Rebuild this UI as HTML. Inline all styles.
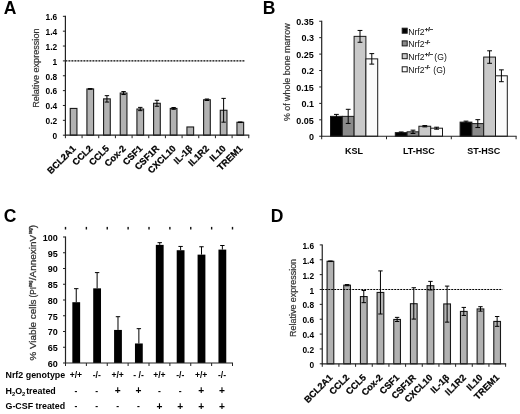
<!DOCTYPE html>
<html><head><meta charset="utf-8"><title>Figure</title>
<style>html,body{margin:0;padding:0;background:#fff;}svg{display:block;will-change:transform;opacity:0.999;}text{font-family:"Liberation Sans",sans-serif;}</style>
</head><body>
<svg width="520" height="414" viewBox="0 0 520 414">
<rect x="0" y="0" width="520" height="414" fill="#fff"/>
<rect x="70.24" y="108.43" width="6.70" height="26.77" fill="#b2b2b2" stroke="#1a1a1a" stroke-width="1.1"/>
<rect x="86.91" y="88.94" width="6.70" height="46.26" fill="#b2b2b2" stroke="#1a1a1a" stroke-width="1.1"/>
<line x1="90.25" y1="88.64" x2="90.25" y2="89.23" stroke="#000" stroke-width="1.0" />
<line x1="88.05" y1="88.64" x2="92.45" y2="88.64" stroke="#000" stroke-width="1.0" />
<line x1="88.05" y1="89.23" x2="92.45" y2="89.23" stroke="#000" stroke-width="1.0" />
<rect x="103.58" y="98.87" width="6.70" height="36.33" fill="#b2b2b2" stroke="#1a1a1a" stroke-width="1.1"/>
<line x1="106.93" y1="95.67" x2="106.93" y2="102.06" stroke="#000" stroke-width="1.0" />
<line x1="104.73" y1="95.67" x2="109.13" y2="95.67" stroke="#000" stroke-width="1.0" />
<line x1="104.73" y1="102.06" x2="109.13" y2="102.06" stroke="#000" stroke-width="1.0" />
<rect x="120.25" y="93.06" width="6.70" height="42.14" fill="#b2b2b2" stroke="#1a1a1a" stroke-width="1.1"/>
<line x1="123.59" y1="91.57" x2="123.59" y2="94.54" stroke="#000" stroke-width="1.0" />
<line x1="121.39" y1="91.57" x2="125.80" y2="91.57" stroke="#000" stroke-width="1.0" />
<line x1="121.39" y1="94.54" x2="125.80" y2="94.54" stroke="#000" stroke-width="1.0" />
<rect x="136.92" y="109.02" width="6.70" height="26.18" fill="#b2b2b2" stroke="#1a1a1a" stroke-width="1.1"/>
<line x1="140.27" y1="107.38" x2="140.27" y2="110.65" stroke="#000" stroke-width="1.0" />
<line x1="138.07" y1="107.38" x2="142.47" y2="107.38" stroke="#000" stroke-width="1.0" />
<line x1="138.07" y1="110.65" x2="142.47" y2="110.65" stroke="#000" stroke-width="1.0" />
<rect x="153.59" y="103.28" width="6.70" height="31.92" fill="#b2b2b2" stroke="#1a1a1a" stroke-width="1.1"/>
<line x1="156.94" y1="100.31" x2="156.94" y2="106.25" stroke="#000" stroke-width="1.0" />
<line x1="154.74" y1="100.31" x2="159.13" y2="100.31" stroke="#000" stroke-width="1.0" />
<line x1="154.74" y1="106.25" x2="159.13" y2="106.25" stroke="#000" stroke-width="1.0" />
<rect x="170.26" y="108.43" width="6.70" height="26.77" fill="#b2b2b2" stroke="#1a1a1a" stroke-width="1.1"/>
<line x1="173.61" y1="107.54" x2="173.61" y2="109.32" stroke="#000" stroke-width="1.0" />
<line x1="171.41" y1="107.54" x2="175.81" y2="107.54" stroke="#000" stroke-width="1.0" />
<line x1="171.41" y1="109.32" x2="175.81" y2="109.32" stroke="#000" stroke-width="1.0" />
<rect x="186.93" y="126.97" width="6.70" height="8.23" fill="#b2b2b2" stroke="#1a1a1a" stroke-width="1.1"/>
<rect x="203.60" y="99.75" width="6.70" height="35.45" fill="#b2b2b2" stroke="#1a1a1a" stroke-width="1.1"/>
<line x1="206.95" y1="99.01" x2="206.95" y2="100.49" stroke="#000" stroke-width="1.0" />
<line x1="204.75" y1="99.01" x2="209.15" y2="99.01" stroke="#000" stroke-width="1.0" />
<line x1="204.75" y1="100.49" x2="209.15" y2="100.49" stroke="#000" stroke-width="1.0" />
<rect x="220.27" y="110.27" width="6.70" height="24.93" fill="#b2b2b2" stroke="#1a1a1a" stroke-width="1.1"/>
<line x1="223.62" y1="98.38" x2="223.62" y2="122.16" stroke="#000" stroke-width="1.0" />
<line x1="221.42" y1="98.38" x2="225.81" y2="98.38" stroke="#000" stroke-width="1.0" />
<line x1="221.42" y1="122.16" x2="225.81" y2="122.16" stroke="#000" stroke-width="1.0" />
<rect x="236.94" y="122.26" width="6.70" height="12.94" fill="#b2b2b2" stroke="#1a1a1a" stroke-width="1.1"/>
<line x1="240.29" y1="121.96" x2="240.29" y2="122.56" stroke="#000" stroke-width="1.0" />
<line x1="238.09" y1="121.96" x2="242.49" y2="121.96" stroke="#000" stroke-width="1.0" />
<line x1="238.09" y1="122.56" x2="242.49" y2="122.56" stroke="#000" stroke-width="1.0" />
<line x1="65.40" y1="60.90" x2="245.00" y2="60.90" stroke="#000" stroke-width="1.2" stroke-dasharray="2 1"/>
<line x1="65.40" y1="15.82" x2="65.40" y2="135.70" stroke="#222" stroke-width="1.2" />
<line x1="64.90" y1="135.20" x2="249.27" y2="135.20" stroke="#222" stroke-width="1.2" />
<line x1="62.90" y1="135.20" x2="65.40" y2="135.20" stroke="#222" stroke-width="1.0" />
<text transform="translate(57.20 139.00) scale(0.93 1)" font-size="9.0" font-weight="bold" text-anchor="end" fill="#000">0</text>
<line x1="62.90" y1="120.34" x2="65.40" y2="120.34" stroke="#222" stroke-width="1.0" />
<text transform="translate(57.20 124.14) scale(0.93 1)" font-size="9.0" font-weight="bold" text-anchor="end" fill="#000">0.2</text>
<line x1="62.90" y1="105.48" x2="65.40" y2="105.48" stroke="#222" stroke-width="1.0" />
<text transform="translate(57.20 109.28) scale(0.93 1)" font-size="9.0" font-weight="bold" text-anchor="end" fill="#000">0.4</text>
<line x1="62.90" y1="90.62" x2="65.40" y2="90.62" stroke="#222" stroke-width="1.0" />
<text transform="translate(57.20 94.42) scale(0.93 1)" font-size="9.0" font-weight="bold" text-anchor="end" fill="#000">0.6</text>
<line x1="62.90" y1="75.76" x2="65.40" y2="75.76" stroke="#222" stroke-width="1.0" />
<text transform="translate(57.20 79.56) scale(0.93 1)" font-size="9.0" font-weight="bold" text-anchor="end" fill="#000">0.8</text>
<line x1="62.90" y1="60.90" x2="65.40" y2="60.90" stroke="#222" stroke-width="1.0" />
<text transform="translate(57.20 64.70) scale(0.93 1)" font-size="9.0" font-weight="bold" text-anchor="end" fill="#000">1</text>
<line x1="62.90" y1="46.04" x2="65.40" y2="46.04" stroke="#222" stroke-width="1.0" />
<text transform="translate(57.20 49.84) scale(0.93 1)" font-size="9.0" font-weight="bold" text-anchor="end" fill="#000">1.2</text>
<line x1="62.90" y1="31.18" x2="65.40" y2="31.18" stroke="#222" stroke-width="1.0" />
<text transform="translate(57.20 34.98) scale(0.93 1)" font-size="9.0" font-weight="bold" text-anchor="end" fill="#000">1.4</text>
<line x1="62.90" y1="16.32" x2="65.40" y2="16.32" stroke="#222" stroke-width="1.0" />
<text transform="translate(57.20 20.12) scale(0.93 1)" font-size="9.0" font-weight="bold" text-anchor="end" fill="#000">1.6</text>
<line x1="65.40" y1="135.20" x2="65.40" y2="138.20" stroke="#222" stroke-width="1.0" />
<line x1="82.07" y1="135.20" x2="82.07" y2="138.20" stroke="#222" stroke-width="1.0" />
<line x1="98.74" y1="135.20" x2="98.74" y2="138.20" stroke="#222" stroke-width="1.0" />
<line x1="115.41" y1="135.20" x2="115.41" y2="138.20" stroke="#222" stroke-width="1.0" />
<line x1="132.08" y1="135.20" x2="132.08" y2="138.20" stroke="#222" stroke-width="1.0" />
<line x1="148.75" y1="135.20" x2="148.75" y2="138.20" stroke="#222" stroke-width="1.0" />
<line x1="165.42" y1="135.20" x2="165.42" y2="138.20" stroke="#222" stroke-width="1.0" />
<line x1="182.09" y1="135.20" x2="182.09" y2="138.20" stroke="#222" stroke-width="1.0" />
<line x1="198.76" y1="135.20" x2="198.76" y2="138.20" stroke="#222" stroke-width="1.0" />
<line x1="215.43" y1="135.20" x2="215.43" y2="138.20" stroke="#222" stroke-width="1.0" />
<line x1="232.10" y1="135.20" x2="232.10" y2="138.20" stroke="#222" stroke-width="1.0" />
<line x1="248.77" y1="135.20" x2="248.77" y2="138.20" stroke="#222" stroke-width="1.0" />
<text x="76.34" y="149.10" font-size="9.2" font-weight="bold" text-anchor="end" fill="#000" transform="rotate(-45 76.34 149.10)" stroke="#000" stroke-width="0.25">BCL2A1</text>
<text x="93.00" y="149.10" font-size="9.2" font-weight="bold" text-anchor="end" fill="#000" transform="rotate(-45 93.00 149.10)" stroke="#000" stroke-width="0.25">CCL2</text>
<text x="109.68" y="149.10" font-size="9.2" font-weight="bold" text-anchor="end" fill="#000" transform="rotate(-45 109.68 149.10)" stroke="#000" stroke-width="0.25">CCL5</text>
<text x="126.34" y="149.10" font-size="9.2" font-weight="bold" text-anchor="end" fill="#000" transform="rotate(-45 126.34 149.10)" stroke="#000" stroke-width="0.25">Cox-2</text>
<text x="143.02" y="149.10" font-size="9.2" font-weight="bold" text-anchor="end" fill="#000" transform="rotate(-45 143.02 149.10)" stroke="#000" stroke-width="0.25">CSF1</text>
<text x="159.69" y="149.10" font-size="9.2" font-weight="bold" text-anchor="end" fill="#000" transform="rotate(-45 159.69 149.10)" stroke="#000" stroke-width="0.25">CSF1R</text>
<text x="176.36" y="149.10" font-size="9.2" font-weight="bold" text-anchor="end" fill="#000" transform="rotate(-45 176.36 149.10)" stroke="#000" stroke-width="0.25">CXCL10</text>
<text x="193.03" y="149.10" font-size="9.2" font-weight="bold" text-anchor="end" fill="#000" transform="rotate(-45 193.03 149.10)" stroke="#000" stroke-width="0.25">IL-1β</text>
<text x="209.70" y="149.10" font-size="9.2" font-weight="bold" text-anchor="end" fill="#000" transform="rotate(-45 209.70 149.10)" stroke="#000" stroke-width="0.25">IL1R2</text>
<text x="226.37" y="149.10" font-size="9.2" font-weight="bold" text-anchor="end" fill="#000" transform="rotate(-45 226.37 149.10)" stroke="#000" stroke-width="0.25">IL10</text>
<text x="243.04" y="149.10" font-size="9.2" font-weight="bold" text-anchor="end" fill="#000" transform="rotate(-45 243.04 149.10)" stroke="#000" stroke-width="0.25">TREM1</text>
<text x="39.40" y="68.20" font-size="9.1" font-weight="normal" text-anchor="middle" fill="#333" transform="rotate(-90 39.40 68.20)" stroke="#333" stroke-width="0.2">Relative expression</text>
<text x="3.80" y="14.40" font-size="17.5" font-weight="bold" text-anchor="start" fill="#000" >A</text>
<rect x="327.08" y="261.27" width="6.70" height="102.53" fill="#b2b2b2" stroke="#1a1a1a" stroke-width="1.1"/>
<line x1="330.44" y1="260.97" x2="330.44" y2="261.56" stroke="#000" stroke-width="1.0" />
<line x1="328.24" y1="260.97" x2="332.63" y2="260.97" stroke="#000" stroke-width="1.0" />
<line x1="328.24" y1="261.56" x2="332.63" y2="261.56" stroke="#000" stroke-width="1.0" />
<rect x="343.75" y="285.17" width="6.70" height="78.63" fill="#b2b2b2" stroke="#1a1a1a" stroke-width="1.1"/>
<line x1="347.11" y1="284.58" x2="347.11" y2="285.77" stroke="#000" stroke-width="1.0" />
<line x1="344.91" y1="284.58" x2="349.31" y2="284.58" stroke="#000" stroke-width="1.0" />
<line x1="344.91" y1="285.77" x2="349.31" y2="285.77" stroke="#000" stroke-width="1.0" />
<rect x="360.43" y="296.57" width="6.70" height="67.23" fill="#b2b2b2" stroke="#1a1a1a" stroke-width="1.1"/>
<line x1="363.78" y1="290.48" x2="363.78" y2="302.67" stroke="#000" stroke-width="1.0" />
<line x1="361.58" y1="290.48" x2="365.98" y2="290.48" stroke="#000" stroke-width="1.0" />
<line x1="361.58" y1="302.67" x2="365.98" y2="302.67" stroke="#000" stroke-width="1.0" />
<rect x="377.10" y="292.45" width="6.70" height="71.35" fill="#b2b2b2" stroke="#1a1a1a" stroke-width="1.1"/>
<line x1="380.45" y1="270.91" x2="380.45" y2="314.00" stroke="#000" stroke-width="1.0" />
<line x1="378.25" y1="270.91" x2="382.65" y2="270.91" stroke="#000" stroke-width="1.0" />
<line x1="378.25" y1="314.00" x2="382.65" y2="314.00" stroke="#000" stroke-width="1.0" />
<rect x="393.76" y="319.45" width="6.70" height="44.35" fill="#b2b2b2" stroke="#1a1a1a" stroke-width="1.1"/>
<line x1="397.12" y1="317.37" x2="397.12" y2="321.53" stroke="#000" stroke-width="1.0" />
<line x1="394.92" y1="317.37" x2="399.31" y2="317.37" stroke="#000" stroke-width="1.0" />
<line x1="394.92" y1="321.53" x2="399.31" y2="321.53" stroke="#000" stroke-width="1.0" />
<rect x="410.44" y="303.71" width="6.70" height="60.09" fill="#b2b2b2" stroke="#1a1a1a" stroke-width="1.1"/>
<line x1="413.79" y1="287.73" x2="413.79" y2="319.09" stroke="#000" stroke-width="1.0" />
<line x1="411.59" y1="287.73" x2="415.99" y2="287.73" stroke="#000" stroke-width="1.0" />
<line x1="411.59" y1="319.09" x2="415.99" y2="319.09" stroke="#000" stroke-width="1.0" />
<rect x="427.11" y="285.69" width="6.70" height="78.11" fill="#b2b2b2" stroke="#1a1a1a" stroke-width="1.1"/>
<line x1="430.46" y1="281.38" x2="430.46" y2="290.00" stroke="#000" stroke-width="1.0" />
<line x1="428.26" y1="281.38" x2="432.66" y2="281.38" stroke="#000" stroke-width="1.0" />
<line x1="428.26" y1="290.00" x2="432.66" y2="290.00" stroke="#000" stroke-width="1.0" />
<rect x="443.77" y="303.93" width="6.70" height="59.87" fill="#b2b2b2" stroke="#1a1a1a" stroke-width="1.1"/>
<line x1="447.12" y1="286.10" x2="447.12" y2="322.13" stroke="#000" stroke-width="1.0" />
<line x1="444.93" y1="286.10" x2="449.32" y2="286.10" stroke="#000" stroke-width="1.0" />
<line x1="444.93" y1="322.13" x2="449.32" y2="322.13" stroke="#000" stroke-width="1.0" />
<rect x="460.45" y="311.43" width="6.70" height="52.37" fill="#b2b2b2" stroke="#1a1a1a" stroke-width="1.1"/>
<line x1="463.80" y1="307.42" x2="463.80" y2="315.44" stroke="#000" stroke-width="1.0" />
<line x1="461.60" y1="307.42" x2="466.00" y2="307.42" stroke="#000" stroke-width="1.0" />
<line x1="461.60" y1="315.44" x2="466.00" y2="315.44" stroke="#000" stroke-width="1.0" />
<rect x="477.12" y="308.93" width="6.70" height="54.87" fill="#b2b2b2" stroke="#1a1a1a" stroke-width="1.1"/>
<line x1="480.47" y1="306.70" x2="480.47" y2="311.16" stroke="#000" stroke-width="1.0" />
<line x1="478.27" y1="306.70" x2="482.67" y2="306.70" stroke="#000" stroke-width="1.0" />
<line x1="478.27" y1="311.16" x2="482.67" y2="311.16" stroke="#000" stroke-width="1.0" />
<rect x="493.79" y="321.44" width="6.70" height="42.36" fill="#b2b2b2" stroke="#1a1a1a" stroke-width="1.1"/>
<line x1="497.14" y1="316.53" x2="497.14" y2="326.34" stroke="#000" stroke-width="1.0" />
<line x1="494.94" y1="316.53" x2="499.34" y2="316.53" stroke="#000" stroke-width="1.0" />
<line x1="494.94" y1="326.34" x2="499.34" y2="326.34" stroke="#000" stroke-width="1.0" />
<line x1="322.25" y1="289.50" x2="502.50" y2="289.50" stroke="#000" stroke-width="1.2" stroke-dasharray="2 1"/>
<line x1="322.25" y1="244.42" x2="322.25" y2="364.30" stroke="#222" stroke-width="1.2" />
<line x1="321.75" y1="363.80" x2="506.12" y2="363.80" stroke="#222" stroke-width="1.2" />
<line x1="319.75" y1="363.80" x2="322.25" y2="363.80" stroke="#222" stroke-width="1.0" />
<text transform="translate(314.05 367.90) scale(0.93 1)" font-size="9.0" font-weight="bold" text-anchor="end" fill="#000">0</text>
<line x1="319.75" y1="348.94" x2="322.25" y2="348.94" stroke="#222" stroke-width="1.0" />
<text transform="translate(314.05 353.04) scale(0.93 1)" font-size="9.0" font-weight="bold" text-anchor="end" fill="#000">0.2</text>
<line x1="319.75" y1="334.08" x2="322.25" y2="334.08" stroke="#222" stroke-width="1.0" />
<text transform="translate(314.05 338.18) scale(0.93 1)" font-size="9.0" font-weight="bold" text-anchor="end" fill="#000">0.4</text>
<line x1="319.75" y1="319.22" x2="322.25" y2="319.22" stroke="#222" stroke-width="1.0" />
<text transform="translate(314.05 323.32) scale(0.93 1)" font-size="9.0" font-weight="bold" text-anchor="end" fill="#000">0.6</text>
<line x1="319.75" y1="304.36" x2="322.25" y2="304.36" stroke="#222" stroke-width="1.0" />
<text transform="translate(314.05 308.46) scale(0.93 1)" font-size="9.0" font-weight="bold" text-anchor="end" fill="#000">0.8</text>
<line x1="319.75" y1="289.50" x2="322.25" y2="289.50" stroke="#222" stroke-width="1.0" />
<text transform="translate(314.05 293.60) scale(0.93 1)" font-size="9.0" font-weight="bold" text-anchor="end" fill="#000">1</text>
<line x1="319.75" y1="274.64" x2="322.25" y2="274.64" stroke="#222" stroke-width="1.0" />
<text transform="translate(314.05 278.74) scale(0.93 1)" font-size="9.0" font-weight="bold" text-anchor="end" fill="#000">1.2</text>
<line x1="319.75" y1="259.78" x2="322.25" y2="259.78" stroke="#222" stroke-width="1.0" />
<text transform="translate(314.05 263.88) scale(0.93 1)" font-size="9.0" font-weight="bold" text-anchor="end" fill="#000">1.4</text>
<line x1="319.75" y1="244.92" x2="322.25" y2="244.92" stroke="#222" stroke-width="1.0" />
<text transform="translate(314.05 249.02) scale(0.93 1)" font-size="9.0" font-weight="bold" text-anchor="end" fill="#000">1.6</text>
<line x1="322.25" y1="363.80" x2="322.25" y2="366.80" stroke="#222" stroke-width="1.0" />
<line x1="338.92" y1="363.80" x2="338.92" y2="366.80" stroke="#222" stroke-width="1.0" />
<line x1="355.59" y1="363.80" x2="355.59" y2="366.80" stroke="#222" stroke-width="1.0" />
<line x1="372.26" y1="363.80" x2="372.26" y2="366.80" stroke="#222" stroke-width="1.0" />
<line x1="388.93" y1="363.80" x2="388.93" y2="366.80" stroke="#222" stroke-width="1.0" />
<line x1="405.60" y1="363.80" x2="405.60" y2="366.80" stroke="#222" stroke-width="1.0" />
<line x1="422.27" y1="363.80" x2="422.27" y2="366.80" stroke="#222" stroke-width="1.0" />
<line x1="438.94" y1="363.80" x2="438.94" y2="366.80" stroke="#222" stroke-width="1.0" />
<line x1="455.61" y1="363.80" x2="455.61" y2="366.80" stroke="#222" stroke-width="1.0" />
<line x1="472.28" y1="363.80" x2="472.28" y2="366.80" stroke="#222" stroke-width="1.0" />
<line x1="488.95" y1="363.80" x2="488.95" y2="366.80" stroke="#222" stroke-width="1.0" />
<line x1="505.62" y1="363.80" x2="505.62" y2="366.80" stroke="#222" stroke-width="1.0" />
<text x="333.19" y="378.20" font-size="9.2" font-weight="bold" text-anchor="end" fill="#000" transform="rotate(-45 333.19 378.20)" stroke="#000" stroke-width="0.25">BCL2A1</text>
<text x="349.86" y="378.20" font-size="9.2" font-weight="bold" text-anchor="end" fill="#000" transform="rotate(-45 349.86 378.20)" stroke="#000" stroke-width="0.25">CCL2</text>
<text x="366.53" y="378.20" font-size="9.2" font-weight="bold" text-anchor="end" fill="#000" transform="rotate(-45 366.53 378.20)" stroke="#000" stroke-width="0.25">CCL5</text>
<text x="383.20" y="378.20" font-size="9.2" font-weight="bold" text-anchor="end" fill="#000" transform="rotate(-45 383.20 378.20)" stroke="#000" stroke-width="0.25">Cox-2</text>
<text x="399.87" y="378.20" font-size="9.2" font-weight="bold" text-anchor="end" fill="#000" transform="rotate(-45 399.87 378.20)" stroke="#000" stroke-width="0.25">CSF1</text>
<text x="416.54" y="378.20" font-size="9.2" font-weight="bold" text-anchor="end" fill="#000" transform="rotate(-45 416.54 378.20)" stroke="#000" stroke-width="0.25">CSF1R</text>
<text x="433.21" y="378.20" font-size="9.2" font-weight="bold" text-anchor="end" fill="#000" transform="rotate(-45 433.21 378.20)" stroke="#000" stroke-width="0.25">CXCL10</text>
<text x="449.88" y="378.20" font-size="9.2" font-weight="bold" text-anchor="end" fill="#000" transform="rotate(-45 449.88 378.20)" stroke="#000" stroke-width="0.25">IL-1β</text>
<text x="466.55" y="378.20" font-size="9.2" font-weight="bold" text-anchor="end" fill="#000" transform="rotate(-45 466.55 378.20)" stroke="#000" stroke-width="0.25">IL1R2</text>
<text x="483.22" y="378.20" font-size="9.2" font-weight="bold" text-anchor="end" fill="#000" transform="rotate(-45 483.22 378.20)" stroke="#000" stroke-width="0.25">IL10</text>
<text x="499.89" y="378.20" font-size="9.2" font-weight="bold" text-anchor="end" fill="#000" transform="rotate(-45 499.89 378.20)" stroke="#000" stroke-width="0.25">TREM1</text>
<text x="296.25" y="297.90" font-size="8.95" font-weight="normal" text-anchor="middle" fill="#333" transform="rotate(-90 296.25 297.90)" stroke="#333" stroke-width="0.2">Relative expression</text>
<text x="270.80" y="221.50" font-size="17.5" font-weight="bold" text-anchor="start" fill="#000" >D</text>
<rect x="330.50" y="116.37" width="11.80" height="19.88" fill="#000" stroke="#1a1a1a" stroke-width="1.0"/>
<rect x="342.30" y="116.37" width="11.80" height="19.88" fill="#8a8a8a" stroke="#1a1a1a" stroke-width="1.0"/>
<rect x="354.10" y="36.36" width="11.80" height="99.89" fill="#c9c9c9" stroke="#1a1a1a" stroke-width="1.0"/>
<rect x="365.90" y="58.86" width="11.80" height="77.39" fill="#fbfbfb" stroke="#1a1a1a" stroke-width="1.0"/>
<line x1="336.40" y1="114.40" x2="336.40" y2="118.34" stroke="#000" stroke-width="1.0" />
<line x1="334.00" y1="114.40" x2="338.80" y2="114.40" stroke="#000" stroke-width="1.0" />
<line x1="348.20" y1="109.30" x2="348.20" y2="123.43" stroke="#000" stroke-width="1.0" />
<line x1="345.80" y1="109.30" x2="350.60" y2="109.30" stroke="#000" stroke-width="1.0" />
<line x1="345.80" y1="123.43" x2="350.60" y2="123.43" stroke="#000" stroke-width="1.0" />
<line x1="360.00" y1="30.44" x2="360.00" y2="42.27" stroke="#000" stroke-width="1.0" />
<line x1="357.60" y1="30.44" x2="362.40" y2="30.44" stroke="#000" stroke-width="1.0" />
<line x1="357.60" y1="42.27" x2="362.40" y2="42.27" stroke="#000" stroke-width="1.0" />
<line x1="371.80" y1="53.61" x2="371.80" y2="64.12" stroke="#000" stroke-width="1.0" />
<line x1="369.40" y1="53.61" x2="374.20" y2="53.61" stroke="#000" stroke-width="1.0" />
<line x1="369.40" y1="64.12" x2="374.20" y2="64.12" stroke="#000" stroke-width="1.0" />
<text x="354.10" y="153.70" font-size="9" font-weight="bold" text-anchor="middle" fill="#000" >KSL</text>
<rect x="395.30" y="132.64" width="11.80" height="3.61" fill="#000" stroke="#1a1a1a" stroke-width="1.0"/>
<rect x="407.10" y="131.81" width="11.80" height="4.44" fill="#8a8a8a" stroke="#1a1a1a" stroke-width="1.0"/>
<rect x="418.90" y="126.23" width="11.80" height="10.02" fill="#c9c9c9" stroke="#1a1a1a" stroke-width="1.0"/>
<rect x="430.70" y="128.20" width="11.80" height="8.05" fill="#fbfbfb" stroke="#1a1a1a" stroke-width="1.0"/>
<line x1="401.20" y1="131.98" x2="401.20" y2="133.29" stroke="#000" stroke-width="1.0" />
<line x1="398.80" y1="131.98" x2="403.60" y2="131.98" stroke="#000" stroke-width="1.0" />
<line x1="413.00" y1="130.17" x2="413.00" y2="133.46" stroke="#000" stroke-width="1.0" />
<line x1="410.60" y1="130.17" x2="415.40" y2="130.17" stroke="#000" stroke-width="1.0" />
<line x1="410.60" y1="133.46" x2="415.40" y2="133.46" stroke="#000" stroke-width="1.0" />
<line x1="424.80" y1="125.57" x2="424.80" y2="126.88" stroke="#000" stroke-width="1.0" />
<line x1="422.40" y1="125.57" x2="427.20" y2="125.57" stroke="#000" stroke-width="1.0" />
<line x1="422.40" y1="126.88" x2="427.20" y2="126.88" stroke="#000" stroke-width="1.0" />
<line x1="436.60" y1="127.21" x2="436.60" y2="129.19" stroke="#000" stroke-width="1.0" />
<line x1="434.20" y1="127.21" x2="439.00" y2="127.21" stroke="#000" stroke-width="1.0" />
<line x1="434.20" y1="129.19" x2="439.00" y2="129.19" stroke="#000" stroke-width="1.0" />
<text x="418.90" y="153.70" font-size="9" font-weight="bold" text-anchor="middle" fill="#000" >LT-HSC</text>
<rect x="460.10" y="122.12" width="11.80" height="14.13" fill="#000" stroke="#1a1a1a" stroke-width="1.0"/>
<rect x="471.90" y="123.60" width="11.80" height="12.65" fill="#8a8a8a" stroke="#1a1a1a" stroke-width="1.0"/>
<rect x="483.70" y="57.06" width="11.80" height="79.19" fill="#c9c9c9" stroke="#1a1a1a" stroke-width="1.0"/>
<rect x="495.50" y="75.79" width="11.80" height="60.46" fill="#fbfbfb" stroke="#1a1a1a" stroke-width="1.0"/>
<line x1="466.00" y1="121.13" x2="466.00" y2="123.11" stroke="#000" stroke-width="1.0" />
<line x1="463.60" y1="121.13" x2="468.40" y2="121.13" stroke="#000" stroke-width="1.0" />
<line x1="477.80" y1="119.66" x2="477.80" y2="127.54" stroke="#000" stroke-width="1.0" />
<line x1="475.40" y1="119.66" x2="480.20" y2="119.66" stroke="#000" stroke-width="1.0" />
<line x1="475.40" y1="127.54" x2="480.20" y2="127.54" stroke="#000" stroke-width="1.0" />
<line x1="489.60" y1="50.81" x2="489.60" y2="63.30" stroke="#000" stroke-width="1.0" />
<line x1="487.20" y1="50.81" x2="492.00" y2="50.81" stroke="#000" stroke-width="1.0" />
<line x1="487.20" y1="63.30" x2="492.00" y2="63.30" stroke="#000" stroke-width="1.0" />
<line x1="501.40" y1="69.87" x2="501.40" y2="81.70" stroke="#000" stroke-width="1.0" />
<line x1="499.00" y1="69.87" x2="503.80" y2="69.87" stroke="#000" stroke-width="1.0" />
<line x1="499.00" y1="81.70" x2="503.80" y2="81.70" stroke="#000" stroke-width="1.0" />
<text x="483.70" y="153.70" font-size="9" font-weight="bold" text-anchor="middle" fill="#000" >ST-HSC</text>
<line x1="321.70" y1="20.74" x2="321.70" y2="136.75" stroke="#222" stroke-width="1.2" />
<line x1="321.20" y1="136.25" x2="516.60" y2="136.25" stroke="#222" stroke-width="1.2" />
<line x1="319.20" y1="136.25" x2="321.70" y2="136.25" stroke="#222" stroke-width="1.0" />
<text x="313.90" y="140.05" font-size="9.0" font-weight="bold" text-anchor="end" fill="#000" >0</text>
<line x1="319.20" y1="119.82" x2="321.70" y2="119.82" stroke="#222" stroke-width="1.0" />
<text x="313.90" y="123.62" font-size="9.0" font-weight="bold" text-anchor="end" fill="#000" >0.05</text>
<line x1="319.20" y1="103.39" x2="321.70" y2="103.39" stroke="#222" stroke-width="1.0" />
<text x="313.90" y="107.19" font-size="9.0" font-weight="bold" text-anchor="end" fill="#000" >0.1</text>
<line x1="319.20" y1="86.96" x2="321.70" y2="86.96" stroke="#222" stroke-width="1.0" />
<text x="313.90" y="90.76" font-size="9.0" font-weight="bold" text-anchor="end" fill="#000" >0.15</text>
<line x1="319.20" y1="70.53" x2="321.70" y2="70.53" stroke="#222" stroke-width="1.0" />
<text x="313.90" y="74.33" font-size="9.0" font-weight="bold" text-anchor="end" fill="#000" >0.2</text>
<line x1="319.20" y1="54.10" x2="321.70" y2="54.10" stroke="#222" stroke-width="1.0" />
<text x="313.90" y="57.90" font-size="9.0" font-weight="bold" text-anchor="end" fill="#000" >0.25</text>
<line x1="319.20" y1="37.67" x2="321.70" y2="37.67" stroke="#222" stroke-width="1.0" />
<text x="313.90" y="41.47" font-size="9.0" font-weight="bold" text-anchor="end" fill="#000" >0.3</text>
<line x1="319.20" y1="21.24" x2="321.70" y2="21.24" stroke="#222" stroke-width="1.0" />
<text x="313.90" y="25.04" font-size="9.0" font-weight="bold" text-anchor="end" fill="#000" >0.35</text>
<line x1="321.70" y1="136.25" x2="321.70" y2="139.25" stroke="#222" stroke-width="1.0" />
<line x1="386.50" y1="136.25" x2="386.50" y2="139.25" stroke="#222" stroke-width="1.0" />
<line x1="451.30" y1="136.25" x2="451.30" y2="139.25" stroke="#222" stroke-width="1.0" />
<line x1="516.10" y1="136.25" x2="516.10" y2="139.25" stroke="#222" stroke-width="1.0" />
<text x="289.70" y="72.25" font-size="8.9" font-weight="normal" text-anchor="middle" fill="#333" transform="rotate(-90 289.70 72.25)" stroke="#333" stroke-width="0.2">% of whole bone marrow</text>
<text x="262.80" y="14.10" font-size="17.5" font-weight="bold" text-anchor="start" fill="#000" >B</text>
<rect x="402.20" y="28.20" width="5.00" height="5.00" fill="#000" stroke="#1a1a1a" stroke-width="1.0"/>
<text x="408.2" y="34.70" font-size="8.6" fill="#111">Nrf2<tspan font-size="5.8" font-weight="bold" stroke="#111" stroke-width="0.25" dy="-3.9" dx="0.3">+/–</tspan><tspan dy="3.9" dx="0"></tspan></text>
<rect x="402.20" y="40.90" width="5.00" height="5.00" fill="#8a8a8a" stroke="#1a1a1a" stroke-width="1.0"/>
<text x="408.2" y="47.40" font-size="8.6" fill="#111">Nrf2<tspan font-size="5.8" font-weight="bold" stroke="#111" stroke-width="0.25" dy="-3.9" dx="0.3">-/-</tspan><tspan dy="3.9" dx="0"></tspan></text>
<rect x="402.20" y="53.70" width="5.00" height="5.00" fill="#c9c9c9" stroke="#1a1a1a" stroke-width="1.0"/>
<text x="408.2" y="60.20" font-size="8.6" fill="#111">Nrf2<tspan font-size="5.8" font-weight="bold" stroke="#111" stroke-width="0.25" dy="-3.9" dx="0.3">+/–</tspan><tspan dy="3.9" dx="-1"> (G)</tspan></text>
<rect x="402.20" y="66.80" width="5.00" height="5.00" fill="#fbfbfb" stroke="#1a1a1a" stroke-width="1.0"/>
<text x="408.2" y="73.30" font-size="8.6" fill="#111">Nrf2<tspan font-size="5.8" font-weight="bold" stroke="#111" stroke-width="0.25" dy="-3.9" dx="0.3">-/-</tspan><tspan dy="3.9" dx="0.7"> (G)</tspan></text>
<rect x="72.34" y="302.21" width="7.80" height="60.79" fill="#000"/>
<line x1="76.24" y1="288.66" x2="76.24" y2="302.21" stroke="#000" stroke-width="1.0" />
<line x1="74.04" y1="288.66" x2="78.44" y2="288.66" stroke="#000" stroke-width="1.0" />
<rect x="93.21" y="288.35" width="7.80" height="74.65" fill="#000"/>
<line x1="97.11" y1="272.60" x2="97.11" y2="288.35" stroke="#000" stroke-width="1.0" />
<line x1="94.91" y1="272.60" x2="99.31" y2="272.60" stroke="#000" stroke-width="1.0" />
<rect x="114.09" y="329.93" width="7.80" height="33.07" fill="#000"/>
<line x1="117.99" y1="316.69" x2="117.99" y2="329.93" stroke="#000" stroke-width="1.0" />
<line x1="115.79" y1="316.69" x2="120.19" y2="316.69" stroke="#000" stroke-width="1.0" />
<rect x="134.96" y="343.47" width="7.80" height="19.53" fill="#000"/>
<line x1="138.86" y1="328.66" x2="138.86" y2="343.47" stroke="#000" stroke-width="1.0" />
<line x1="136.66" y1="328.66" x2="141.06" y2="328.66" stroke="#000" stroke-width="1.0" />
<rect x="155.84" y="244.88" width="7.80" height="118.12" fill="#000"/>
<line x1="159.74" y1="242.67" x2="159.74" y2="244.88" stroke="#000" stroke-width="1.0" />
<line x1="157.54" y1="242.67" x2="161.94" y2="242.67" stroke="#000" stroke-width="1.0" />
<rect x="176.71" y="250.23" width="7.80" height="112.77" fill="#000"/>
<line x1="180.61" y1="246.45" x2="180.61" y2="250.23" stroke="#000" stroke-width="1.0" />
<line x1="178.41" y1="246.45" x2="182.81" y2="246.45" stroke="#000" stroke-width="1.0" />
<rect x="197.59" y="254.64" width="7.80" height="108.36" fill="#000"/>
<line x1="201.49" y1="246.76" x2="201.49" y2="254.64" stroke="#000" stroke-width="1.0" />
<line x1="199.29" y1="246.76" x2="203.69" y2="246.76" stroke="#000" stroke-width="1.0" />
<rect x="218.46" y="249.60" width="7.80" height="113.40" fill="#000"/>
<line x1="222.36" y1="245.50" x2="222.36" y2="249.60" stroke="#000" stroke-width="1.0" />
<line x1="220.16" y1="245.50" x2="224.56" y2="245.50" stroke="#000" stroke-width="1.0" />
<line x1="65.50" y1="236.50" x2="65.50" y2="363.50" stroke="#222" stroke-width="1.2" />
<line x1="65.00" y1="363.00" x2="233.00" y2="363.00" stroke="#222" stroke-width="1.2" />
<line x1="63.00" y1="363.00" x2="65.50" y2="363.00" stroke="#222" stroke-width="1.0" />
<text x="57.70" y="366.80" font-size="9.0" font-weight="bold" text-anchor="end" fill="#000" >60</text>
<line x1="63.00" y1="347.25" x2="65.50" y2="347.25" stroke="#222" stroke-width="1.0" />
<text x="57.70" y="351.05" font-size="9.0" font-weight="bold" text-anchor="end" fill="#000" >65</text>
<line x1="63.00" y1="331.50" x2="65.50" y2="331.50" stroke="#222" stroke-width="1.0" />
<text x="57.70" y="335.30" font-size="9.0" font-weight="bold" text-anchor="end" fill="#000" >70</text>
<line x1="63.00" y1="315.75" x2="65.50" y2="315.75" stroke="#222" stroke-width="1.0" />
<text x="57.70" y="319.55" font-size="9.0" font-weight="bold" text-anchor="end" fill="#000" >75</text>
<line x1="63.00" y1="300.00" x2="65.50" y2="300.00" stroke="#222" stroke-width="1.0" />
<text x="57.70" y="303.80" font-size="9.0" font-weight="bold" text-anchor="end" fill="#000" >80</text>
<line x1="63.00" y1="284.25" x2="65.50" y2="284.25" stroke="#222" stroke-width="1.0" />
<text x="57.70" y="288.05" font-size="9.0" font-weight="bold" text-anchor="end" fill="#000" >85</text>
<line x1="63.00" y1="268.50" x2="65.50" y2="268.50" stroke="#222" stroke-width="1.0" />
<text x="57.70" y="272.30" font-size="9.0" font-weight="bold" text-anchor="end" fill="#000" >90</text>
<line x1="63.00" y1="252.75" x2="65.50" y2="252.75" stroke="#222" stroke-width="1.0" />
<text x="57.70" y="256.55" font-size="9.0" font-weight="bold" text-anchor="end" fill="#000" >95</text>
<line x1="63.00" y1="237.00" x2="65.50" y2="237.00" stroke="#222" stroke-width="1.0" />
<text x="57.70" y="240.80" font-size="9.0" font-weight="bold" text-anchor="end" fill="#000" >100</text>
<line x1="65.50" y1="363.00" x2="65.50" y2="366.00" stroke="#222" stroke-width="1.0" />
<rect x="64.80" y="226.90" width="1.40" height="2.60" fill="#111"/>
<line x1="86.38" y1="363.00" x2="86.38" y2="366.00" stroke="#222" stroke-width="1.0" />
<rect x="85.67" y="226.90" width="1.40" height="2.60" fill="#111"/>
<line x1="107.25" y1="363.00" x2="107.25" y2="366.00" stroke="#222" stroke-width="1.0" />
<rect x="106.55" y="226.90" width="1.40" height="2.60" fill="#111"/>
<line x1="128.12" y1="363.00" x2="128.12" y2="366.00" stroke="#222" stroke-width="1.0" />
<rect x="127.42" y="226.90" width="1.40" height="2.60" fill="#111"/>
<line x1="149.00" y1="363.00" x2="149.00" y2="366.00" stroke="#222" stroke-width="1.0" />
<rect x="148.30" y="226.90" width="1.40" height="2.60" fill="#111"/>
<line x1="169.88" y1="363.00" x2="169.88" y2="366.00" stroke="#222" stroke-width="1.0" />
<rect x="169.18" y="226.90" width="1.40" height="2.60" fill="#111"/>
<line x1="190.75" y1="363.00" x2="190.75" y2="366.00" stroke="#222" stroke-width="1.0" />
<rect x="190.05" y="226.90" width="1.40" height="2.60" fill="#111"/>
<line x1="211.62" y1="363.00" x2="211.62" y2="366.00" stroke="#222" stroke-width="1.0" />
<rect x="210.93" y="226.90" width="1.40" height="2.60" fill="#111"/>
<line x1="232.50" y1="363.00" x2="232.50" y2="366.00" stroke="#222" stroke-width="1.0" />
<rect x="231.80" y="226.90" width="1.40" height="2.60" fill="#111"/>
<text x="3.80" y="221.60" font-size="17.5" font-weight="bold" text-anchor="start" fill="#000" >C</text>
<text transform="translate(36.00 360.60) rotate(-90)" font-size="8.6" font-weight="normal" fill="#333" stroke="#333" stroke-width="0.25" textLength="61.10" lengthAdjust="spacingAndGlyphs">% Viable cells</text>
<text transform="translate(36.00 297.40) rotate(-90)" font-size="8.6" font-weight="normal" fill="#333" stroke="#333" stroke-width="0.25" textLength="10.50" lengthAdjust="spacingAndGlyphs">(PI</text>
<text transform="translate(31.50 286.70) rotate(-90)" font-size="4.6" font-weight="bold" fill="#333" stroke="#333" stroke-width="0.35" textLength="5.90" lengthAdjust="spacingAndGlyphs">neg</text>
<text transform="translate(36.00 280.20) rotate(-90)" font-size="8.6" font-weight="normal" fill="#333" stroke="#333" stroke-width="0.25" textLength="45.40" lengthAdjust="spacingAndGlyphs">/AnnexinV</text>
<text transform="translate(31.50 234.00) rotate(-90)" font-size="4.6" font-weight="bold" fill="#333" stroke="#333" stroke-width="0.35" textLength="5.60" lengthAdjust="spacingAndGlyphs">neg</text>
<text transform="translate(36.00 228.30) rotate(-90)" font-size="8.6" font-weight="normal" fill="#333" stroke="#333" stroke-width="0.25" textLength="3.30" lengthAdjust="spacingAndGlyphs">)</text>
<text x="5.50" y="377.80" font-size="8.9" font-weight="bold" text-anchor="start" fill="#000" >Nrf2 genotype</text>
<text x="5.5" y="393.5" font-size="8.9" font-weight="bold">H<tspan font-size="5.8" dy="2">2</tspan><tspan dy="-2">O</tspan><tspan font-size="5.8" dy="2">2</tspan><tspan dy="-2" dx="-1.6"> treated</tspan></text>
<text x="5.50" y="409.20" font-size="8.9" font-weight="bold" text-anchor="start" fill="#000" >G-CSF treated</text>
<text x="75.94" y="377.80" font-size="8.6" font-weight="bold" text-anchor="middle" fill="#000" >+/+</text>
<text x="75.94" y="393.50" font-size="8.6" font-weight="bold" text-anchor="middle" fill="#000" >-</text>
<text x="75.94" y="409.20" font-size="8.6" font-weight="bold" text-anchor="middle" fill="#000" >-</text>
<text x="96.81" y="377.80" font-size="8.6" font-weight="bold" text-anchor="middle" fill="#000" >-/-</text>
<text x="96.81" y="393.50" font-size="8.6" font-weight="bold" text-anchor="middle" fill="#000" >-</text>
<text x="96.81" y="409.20" font-size="8.6" font-weight="bold" text-anchor="middle" fill="#000" >-</text>
<text x="117.69" y="377.80" font-size="8.6" font-weight="bold" text-anchor="middle" fill="#000" >+/+</text>
<text x="117.69" y="394.10" font-size="10.2" font-weight="bold" text-anchor="middle" fill="#000" >+</text>
<text x="117.69" y="409.20" font-size="8.6" font-weight="bold" text-anchor="middle" fill="#000" >-</text>
<text x="138.56" y="377.80" font-size="8.6" font-weight="bold" text-anchor="middle" fill="#000" >- /-</text>
<text x="138.56" y="394.10" font-size="10.2" font-weight="bold" text-anchor="middle" fill="#000" >+</text>
<text x="138.56" y="409.20" font-size="8.6" font-weight="bold" text-anchor="middle" fill="#000" >-</text>
<text x="159.44" y="377.80" font-size="8.6" font-weight="bold" text-anchor="middle" fill="#000" >+/+</text>
<text x="159.44" y="393.50" font-size="8.6" font-weight="bold" text-anchor="middle" fill="#000" >-</text>
<text x="159.44" y="409.80" font-size="10.2" font-weight="bold" text-anchor="middle" fill="#000" >+</text>
<text x="180.31" y="377.80" font-size="8.6" font-weight="bold" text-anchor="middle" fill="#000" >-/-</text>
<text x="180.31" y="393.50" font-size="8.6" font-weight="bold" text-anchor="middle" fill="#000" >-</text>
<text x="180.31" y="409.80" font-size="10.2" font-weight="bold" text-anchor="middle" fill="#000" >+</text>
<text x="201.19" y="377.80" font-size="8.6" font-weight="bold" text-anchor="middle" fill="#000" >+/+</text>
<text x="201.19" y="394.10" font-size="10.2" font-weight="bold" text-anchor="middle" fill="#000" >+</text>
<text x="201.19" y="409.80" font-size="10.2" font-weight="bold" text-anchor="middle" fill="#000" >+</text>
<text x="222.06" y="377.80" font-size="8.6" font-weight="bold" text-anchor="middle" fill="#000" >-/-</text>
<text x="222.06" y="394.10" font-size="10.2" font-weight="bold" text-anchor="middle" fill="#000" >+</text>
<text x="222.06" y="409.80" font-size="10.2" font-weight="bold" text-anchor="middle" fill="#000" >+</text>
</svg></body></html>
